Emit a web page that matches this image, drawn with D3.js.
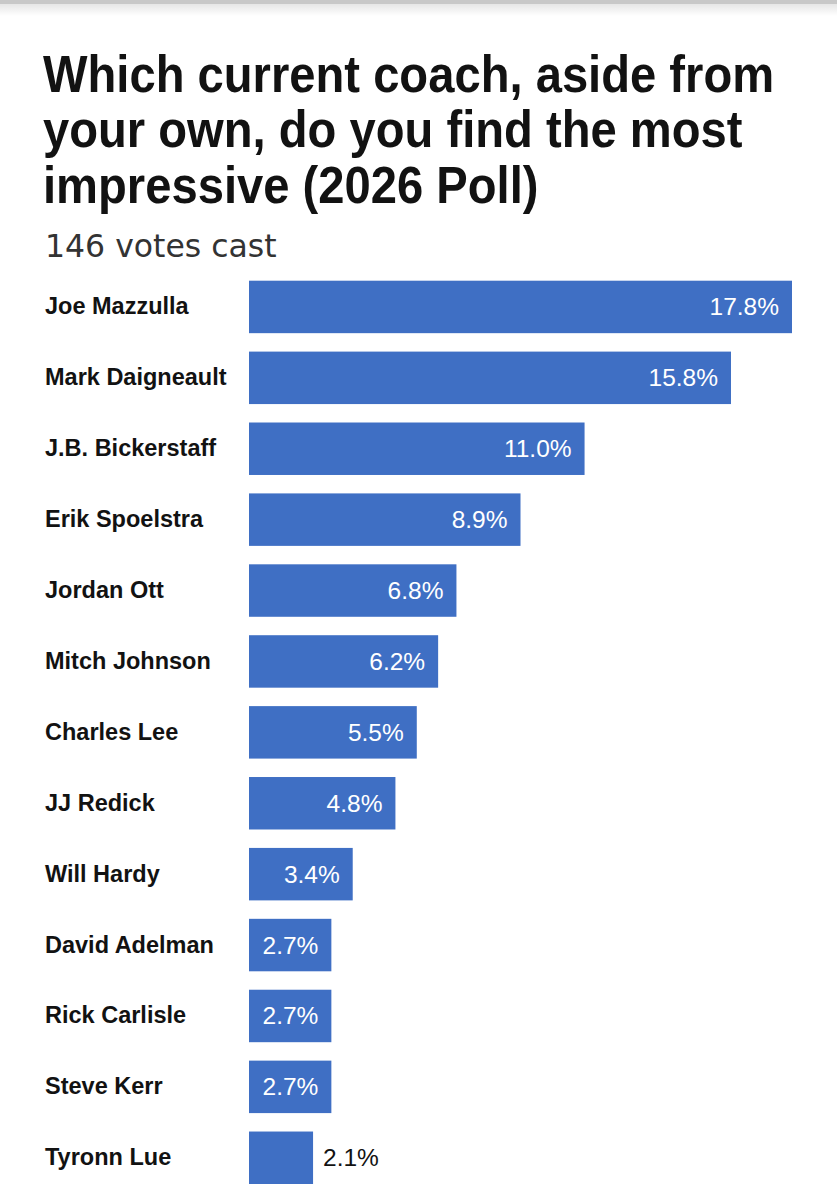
<!DOCTYPE html>
<html>
<head>
<meta charset="utf-8">
<script src="https://cdn.jsdelivr.net/npm/d3@7"></script>
<style>
  body { margin: 0; background: #fff; }
  svg { display: block; }
</style>
</head>
<body>
<svg id="chart" width="837" height="1200"></svg>
<script>
const coaches = ["Joe Mazzulla", "Mark Daigneault", "J.B. Bickerstaff", "Erik Spoelstra", "Jordan Ott",
  "Mitch Johnson", "Charles Lee", "JJ Redick", "Will Hardy", "David Adelman", "Rick Carlisle",
  "Steve Kerr", "Tyronn Lue"];
const shares = [17.8, 15.8, 11.0, 8.9, 6.8, 6.2, 5.5, 4.8, 3.4, 2.7, 2.7, 2.7, 2.1];
const titleLines = ["Which current coach, aside from", "your own, do you find the most", "impressive (2026 Poll)"];
const subtitle = "146 votes cast";

const width = 837;
const barColor = "#3f6fc4";
const svg = d3.select("#chart");

// top rule with soft shadow
const defs = svg.append("defs");
const grad = defs.append("linearGradient").attr("id", "shadow").attr("x1", 0).attr("x2", 0).attr("y1", 0).attr("y2", 1);
grad.append("stop").attr("offset", "0%").attr("stop-color", "#000").attr("stop-opacity", 0.10);
grad.append("stop").attr("offset", "100%").attr("stop-color", "#000").attr("stop-opacity", 0);
svg.append("rect").attr("x", 0).attr("y", 0).attr("width", width).attr("height", 4).attr("fill", "#c8c8c8");
svg.append("rect").attr("x", 0).attr("y", 4).attr("width", width).attr("height", 12).attr("fill", "url(#shadow)");

// title, slightly condensed to get the tall narrow headline look
const title = svg.append("g").attr("transform", "translate(43,0) scale(0.925,1)");
title.selectAll("text")
  .data(titleLines)
  .join("text")
  .attr("x", 0)
  .attr("y", (d, i) => 92 + i * 55.5)
  .style("font-family", "'Liberation Sans', Arial, sans-serif")
  .style("font-weight", "bold")
  .style("font-size", "51px")
  .style("fill", "#121212")
  .text(d => d);

svg.append("text")
  .attr("x", 45)
  .attr("y", 257)
  .style("font-family", "'DejaVu Sans', sans-serif")
  .style("font-size", "31.5px")
  .style("fill", "#333")
  .text(subtitle);

// scales
const x = d3.scaleLinear().domain([0, d3.max(shares)]).range([249, 792]);
const y = d3.scaleBand().domain(coaches).range([280.7, 1184]).paddingInner(0.26).paddingOuter(0);

const rows = svg.append("g")
  .selectAll("g")
  .data(coaches.map((c, i) => ({ name: c, value: shares[i] })))
  .join("g");

rows.append("rect")
  .attr("x", x(0))
  .attr("y", d => y(d.name))
  .attr("width", d => x(d.value) - x(0))
  .attr("height", y.bandwidth())
  .attr("fill", barColor);

rows.append("text")
  .attr("x", 45)
  .attr("y", d => y(d.name) + y.bandwidth() / 2 + 7.5)
  .style("font-family", "'Liberation Sans', Arial, sans-serif")
  .style("font-weight", "bold")
  .style("font-size", "23.5px")
  .style("fill", "#121212")
  .text(d => d.name);

// value labels: inside the bar when it fits, otherwise just after it
const inside = d => x(d.value) - x(0) > 70;
rows.append("text")
  .attr("x", d => inside(d) ? x(d.value) - 13 : x(d.value) + 10)
  .attr("y", d => y(d.name) + y.bandwidth() / 2 + 8.5)
  .attr("text-anchor", d => inside(d) ? "end" : "start")
  .style("font-family", "'Liberation Sans', Arial, sans-serif")
  .style("font-size", "24.5px")
  .style("fill", d => inside(d) ? "#fff" : "#121212")
  .text(d => d.value.toFixed(1) + "%");
</script>
</body>
</html>
